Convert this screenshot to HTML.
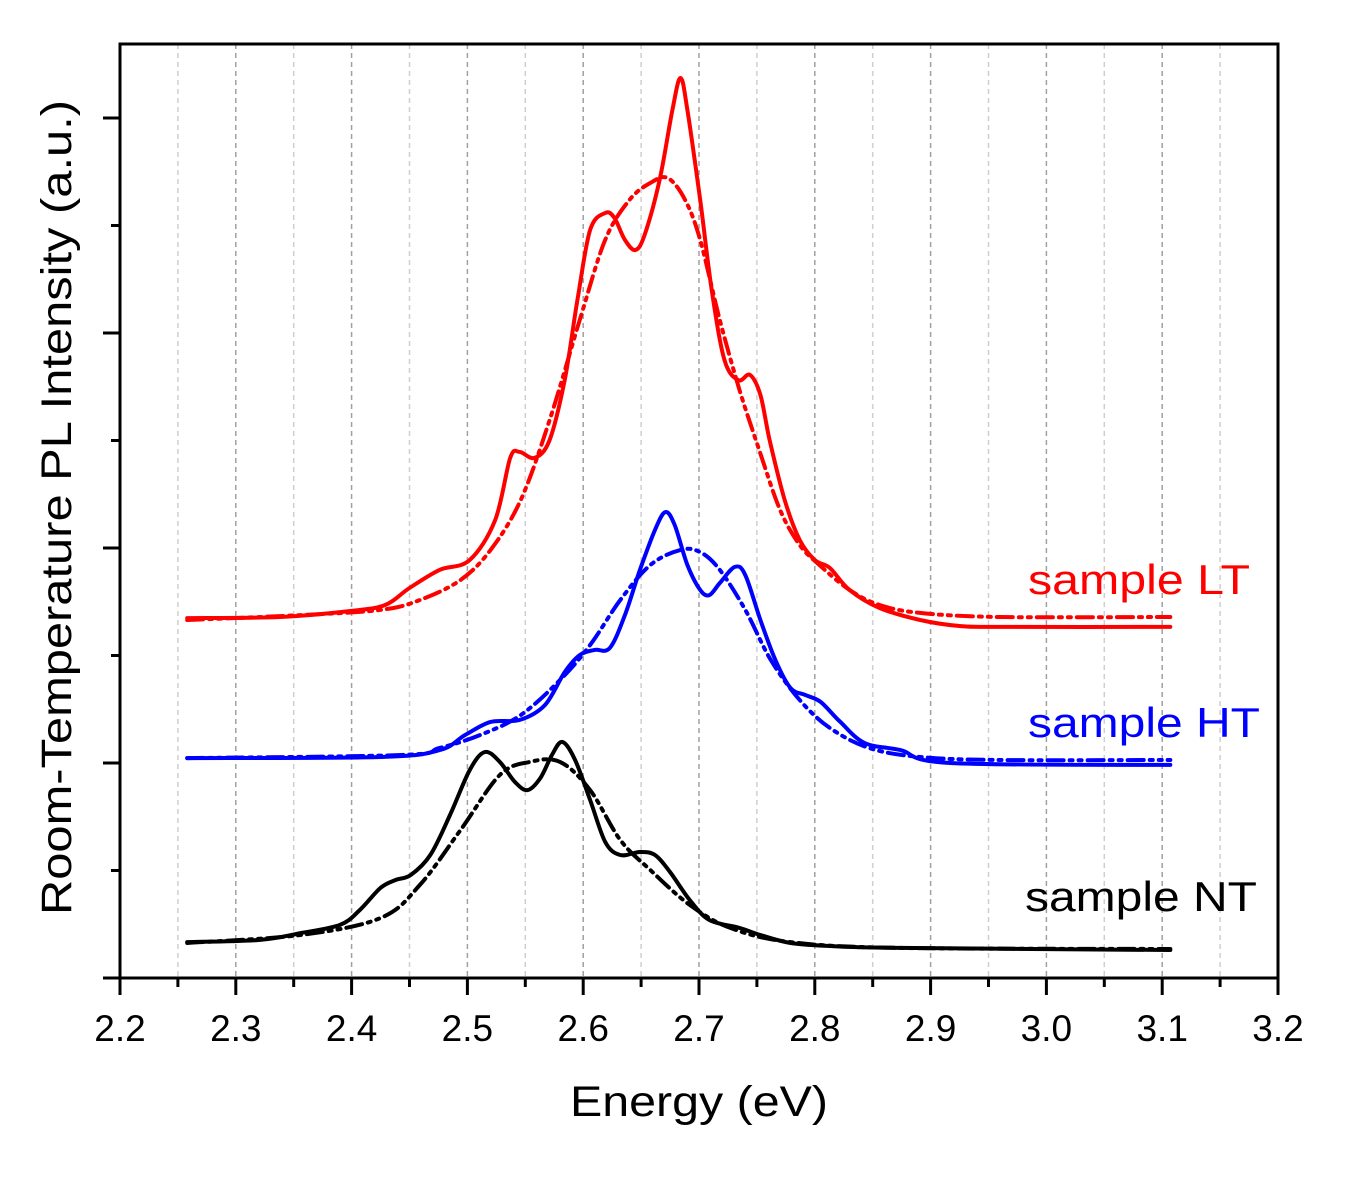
<!DOCTYPE html>
<html><head><meta charset="utf-8"><style>
body{margin:0;background:#fff;}
svg{display:block;font-family:"Liberation Sans",sans-serif;}
</style></head><body>
<svg id="chart" width="1353" height="1188" viewBox="0 0 1353 1188"></svg>
<script>
const xTicks=[2.2,2.3,2.4,2.5,2.6,2.7,2.8,2.9,3.0,3.1,3.2];
const xTickLabels=["2.2","2.3","2.4","2.5","2.6","2.7","2.8","2.9","3.0","3.1","3.2"];
const ltE=[2.258,2.338,2.399,2.429,2.450,2.476,2.502,2.524,2.537,2.545,2.558,2.571,2.584,2.595,2.606,2.619,2.627,2.636,2.645,2.653,2.666,2.677,2.684,2.690,2.701,2.711,2.722,2.734,2.744,2.753,2.761,2.774,2.787,2.800,2.813,2.830,2.856,2.891,2.925,2.960,3.107];
const ltI=[1.674,1.679,1.707,1.735,1.814,1.898,1.944,2.130,2.419,2.447,2.419,2.502,2.781,3.153,3.479,3.558,3.535,3.433,3.386,3.456,3.712,4.037,4.186,4.037,3.619,3.200,2.874,2.781,2.805,2.712,2.502,2.223,2.037,1.944,1.907,1.805,1.721,1.665,1.637,1.633,1.633];
const ltFitE=[2.258,2.356,2.425,2.459,2.494,2.520,2.546,2.571,2.597,2.619,2.640,2.658,2.673,2.688,2.701,2.718,2.735,2.752,2.770,2.787,2.804,2.830,2.856,2.891,2.960,3.107];
const ltFitI=[1.665,1.688,1.712,1.758,1.851,1.991,2.223,2.595,3.060,3.433,3.619,3.698,3.721,3.619,3.433,3.060,2.735,2.456,2.177,2.014,1.921,1.805,1.735,1.698,1.679,1.679];
const htE=[2.258,2.425,2.476,2.498,2.520,2.545,2.567,2.584,2.597,2.610,2.623,2.636,2.649,2.662,2.671,2.679,2.690,2.701,2.709,2.718,2.731,2.740,2.753,2.766,2.779,2.792,2.805,2.822,2.843,2.874,2.917,3.107];
const htI=[1.023,1.028,1.060,1.130,1.191,1.200,1.270,1.423,1.502,1.526,1.535,1.688,1.898,2.084,2.167,2.107,1.921,1.805,1.781,1.837,1.912,1.874,1.665,1.479,1.349,1.316,1.284,1.191,1.093,1.060,1.000,0.991];
const htFitE=[2.258,2.443,2.476,2.511,2.546,2.580,2.606,2.632,2.658,2.684,2.701,2.718,2.740,2.762,2.787,2.813,2.847,2.891,2.960,3.107];
const htFitI=[1.023,1.037,1.070,1.130,1.223,1.386,1.549,1.758,1.921,1.991,1.981,1.898,1.712,1.479,1.293,1.163,1.070,1.028,1.014,1.014];
const ntE=[2.258,2.321,2.356,2.390,2.407,2.425,2.438,2.451,2.468,2.485,2.502,2.515,2.528,2.541,2.552,2.563,2.573,2.582,2.593,2.606,2.619,2.632,2.649,2.662,2.675,2.692,2.709,2.735,2.753,2.779,2.813,2.874,3.107];
const ntI=[0.167,0.177,0.209,0.247,0.316,0.419,0.456,0.479,0.572,0.758,0.967,1.051,1.005,0.912,0.874,0.930,1.037,1.098,1.014,0.828,0.633,0.572,0.586,0.572,0.493,0.363,0.270,0.233,0.200,0.163,0.149,0.140,0.130];
const ntFitE=[2.258,2.356,2.425,2.459,2.494,2.528,2.554,2.580,2.606,2.632,2.658,2.692,2.727,2.779,2.874,3.107];
const ntFitI=[0.163,0.200,0.279,0.433,0.688,0.944,1.005,1.005,0.874,0.642,0.502,0.340,0.233,0.167,0.140,0.135];

const L=120,R=1278,T=44,B=978;
const xS=e=>L+(e-2.2)/1.0*(R-L);
const yS=v=>B-v*215;
const NS="http://www.w3.org/2000/svg";
const svg=document.getElementById('chart');
function mk(tag,attrs,parent){const el=document.createElementNS(NS,tag);for(const k in attrs)el.setAttribute(k,attrs[k]);(parent||svg).appendChild(el);return el;}

for(let i=0;i<=20;i++){const e=2.2+i*0.05;if(i===0||i===20)continue;
 const g=mk('line',{x1:xS(e),x2:xS(e),y1:T,y2:B,stroke:i%2?'#cfcfcf':'#a0a0a0','stroke-width':1.5,'stroke-dasharray':'5,4'});
 
 }
for(let i=0;i<=20;i++){const x=xS(2.2+i*0.05);const len=i%2?9:17;
 const t=mk('line',{x1:x,x2:x,y1:B,y2:B+len,stroke:'#000','stroke-width':3});
 
 }
for(let k=0;k<=8;k++){const y=yS(k*0.5);const len=k%2?9:17;
 const t=mk('line',{x1:L,x2:L-len,y1:y,y2:y,stroke:'#000','stroke-width':3});
 
 }
xTicks.forEach((e,i)=>{const tx=mk('text',{x:xS(e),y:1041,'font-size':37,'text-anchor':'middle',fill:'#000'});tx.textContent=xTickLabels[i];
 
 });

function line(E,I,color,dash,name){
 const P=E.map((e,i)=>[xS(e),yS(I[i])]);
 let d='M'+P[0][0].toFixed(1)+','+P[0][1].toFixed(1);
 for(let i=0;i<P.length-1;i++){
  const p0=P[Math.max(0,i-1)],p1=P[i],p2=P[i+1],p3=P[Math.min(P.length-1,i+2)];
  const c1=[p1[0]+(p2[0]-p0[0])/6,p1[1]+(p2[1]-p0[1])/6];
  const c2=[p2[0]-(p3[0]-p1[0])/6,p2[1]-(p3[1]-p1[1])/6];
  d+=' C'+c1[0].toFixed(1)+','+c1[1].toFixed(1)+' '+c2[0].toFixed(1)+','+c2[1].toFixed(1)+' '+p2[0].toFixed(1)+','+p2[1].toFixed(1);
 }
 const p=mk('path',{d:d,fill:'none',stroke:color,'stroke-width':4,'stroke-linejoin':'round','stroke-linecap':'round'});
 if(dash)p.setAttribute('stroke-dasharray',dash);
 
 }
const fd='16,6,3,6,3,6';
line(ltFitE,ltFitI,'#ff0000',fd,'lt-fit-line');
line(htFitE,htFitI,'#0000ff',fd,'ht-fit-line');
line(ntFitE,ntFitI,'#000000',fd,'nt-fit-line');
line(ltE,ltI,'#ff0000',null,'lt-pl-line');
line(htE,htI,'#0000ff',null,'ht-pl-line');
line(ntE,ntI,'#000000',null,'nt-pl-line');

const fr=mk('rect',{x:L,y:T,width:R-L,height:B-T,fill:'none',stroke:'#000','stroke-width':3});


</script>
<svg style="position:absolute;left:0;top:0" width="1353" height="1188">
<text x="1028" y="594" font-size="42" textLength="222" lengthAdjust="spacingAndGlyphs" fill="#ff0000" font-family="Liberation Sans,sans-serif">sample LT</text>
<text x="1028" y="737" font-size="42" textLength="232" lengthAdjust="spacingAndGlyphs" fill="#0000ff" font-family="Liberation Sans,sans-serif">sample HT</text>
<text x="1025" y="911" font-size="42" textLength="232" lengthAdjust="spacingAndGlyphs" fill="#000" font-family="Liberation Sans,sans-serif">sample NT</text>
<text x="570" y="1116" font-size="43" textLength="258" lengthAdjust="spacingAndGlyphs" fill="#000" font-family="Liberation Sans,sans-serif">Energy (eV)</text>
<text transform="translate(71,915) rotate(-90)" font-size="43" textLength="815" lengthAdjust="spacingAndGlyphs" fill="#000" font-family="Liberation Sans,sans-serif">Room-Temperature PL Intensity (a.u.)</text>
</svg>
</body></html>
